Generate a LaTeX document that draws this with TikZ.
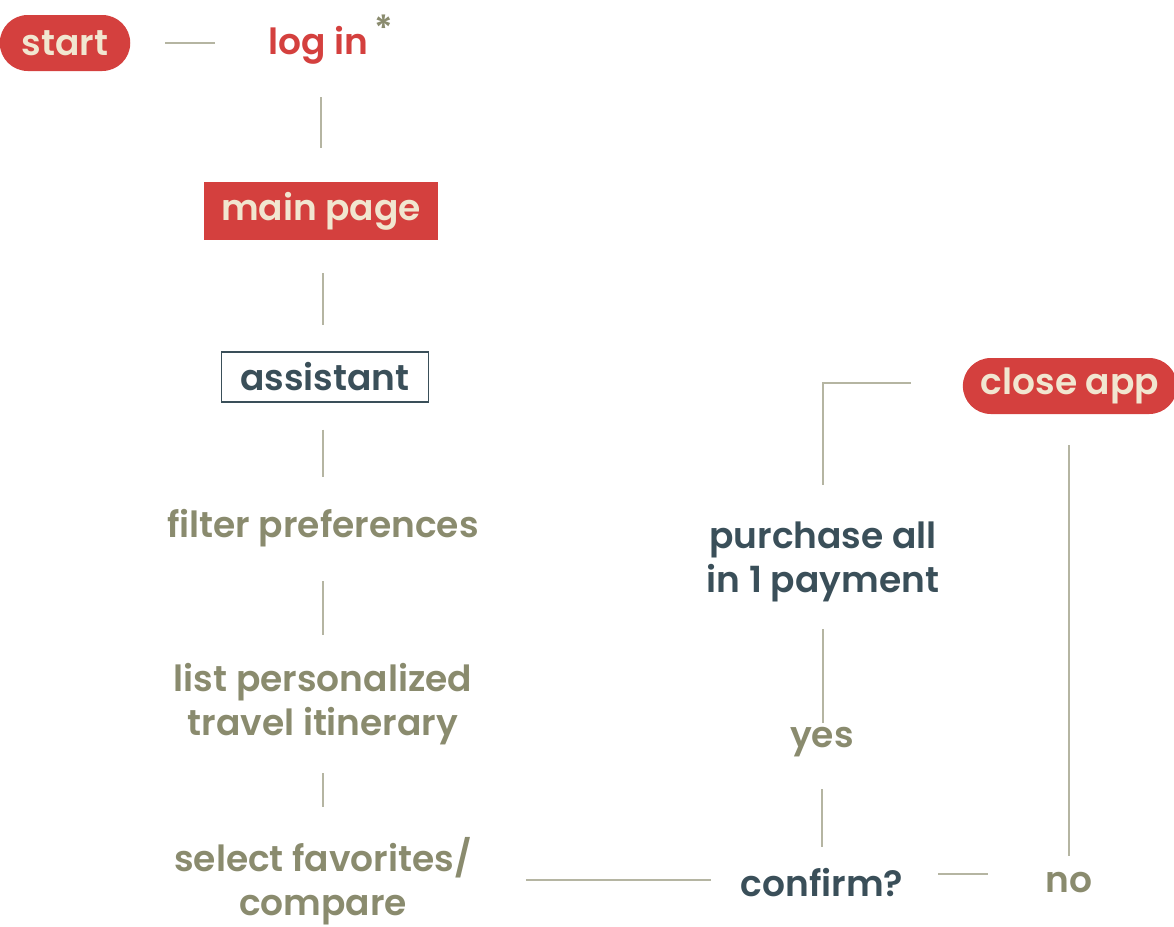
\documentclass[tikz,border=0pt]{standalone}
\usepackage{fontspec}
\setmainfont{Poppins}[UprightFont=* SemiBold]
\usetikzlibrary{positioning}
\definecolor{flowred}{HTML}{D4403E}
\definecolor{flowcream}{HTML}{F1E6D0}
\definecolor{flowslate}{HTML}{3A4F59}
\definecolor{flowolive}{HTML}{8A8B6E}
\definecolor{flowline}{HTML}{B5B5A2}
\newcommand\flowfont{\fontsize{36}{44}\selectfont}
\tikzset{
    pillbox/.style={fill=flowred, text=flowcream, font=\flowfont, rounded corners=28pt,
        minimum height=56pt, inner xsep=18pt, inner ysep=0pt, outer sep=0pt},
    redbox/.style={fill=flowred, text=flowcream, font=\flowfont,
        minimum height=58pt, inner xsep=17pt, inner ysep=0pt},
    framebox/.style={draw=flowslate, line width=1.2pt, text=flowslate, font=\flowfont,
        minimum height=50pt, inner xsep=19pt, inner ysep=0pt},
    redtext/.style={text=flowred, font=\flowfont, inner sep=0pt},
    darktext/.style={text=flowslate, font=\flowfont, align=center, inner sep=0pt},
    plaintext/.style={text=flowolive, font=\flowfont, align=center, inner sep=0pt},
    flowlink/.style={draw=flowline, line width=1.3pt}
}
\begin{document}
\begin{tikzpicture}[x=1pt, y=-1pt]
\useasboundingbox (0,0) rectangle (1174,926);
% left column
\node[pillbox, inner xsep=22pt] (start) at (65,43) {start};
\node[redtext] (login) at (318,45) {log in};
\node[text=flowolive, font=\flowfont, inner sep=0pt] (star) at (384,28) {*};
\node[redbox] (mainpage) at (321,211) {main page};
\node[framebox] (assistant) at (325,377) {assistant};
\node[plaintext] (filter) at (323,528) {filter preferences};
\node[plaintext] (itinerary) at (323,704) {list personalized\\travel itinerary};
\node[plaintext] (favorites) at (323,881) {select favorites/\\compare};
% right side
\node[darktext] (confirm) at (822,883) {confirm?};
\node[plaintext] (no) at (1069,883) {no};
\node[plaintext] (yes) at (822,742) {yes};
\node[darktext] (purchase) at (823,562) {purchase all\\in 1 payment};
\node[pillbox] (closeapp) at (1070,386) {close app};

\draw[flowlink, shorten <=35pt, shorten >=53pt] (start.east) -- (start.east -| login.west);
\draw[flowlink, shorten <=33pt, shorten >=34pt] (mainpage.north |- login.south) -- (mainpage.north);
\draw[flowlink, shorten <=33pt, shorten >=26pt] (mainpage.south -| filter.north) -- (assistant.north -| filter.north);
\draw[flowlink, shorten <=27pt, shorten >=32pt] (assistant.south -| filter.north) -- (filter.north);
\draw[flowlink, shorten <=34pt, shorten >=28pt] (filter) -- (itinerary);
\draw[flowlink, shorten <=28pt, shorten >=30pt] (itinerary) -- (favorites);
\draw[flowlink, shorten <=54pt, shorten >=30pt] ([yshift=3pt]favorites.east |- confirm.west) -- ([yshift=3pt]confirm.west);
\draw[flowlink, shorten <=35pt, shorten >=57pt] ([yshift=9pt]confirm.east) -- ([yshift=9pt]no.west);
\draw[flowlink, shorten <=22pt, shorten >=32pt] (confirm) -- (yes.south -| confirm.north);
\draw[flowlink, shorten <=34pt, shorten >=27pt] (yes.south -| purchase.south) -- (purchase.south);
\draw[flowlink, shorten <=37pt, shorten >=52pt] (purchase.north) |- ([yshift=3pt]closeapp.west);
\draw[flowlink, shorten <=17pt, shorten >=31pt] (no) -- (closeapp.south -| no.north);
\end{tikzpicture}
\end{document}
